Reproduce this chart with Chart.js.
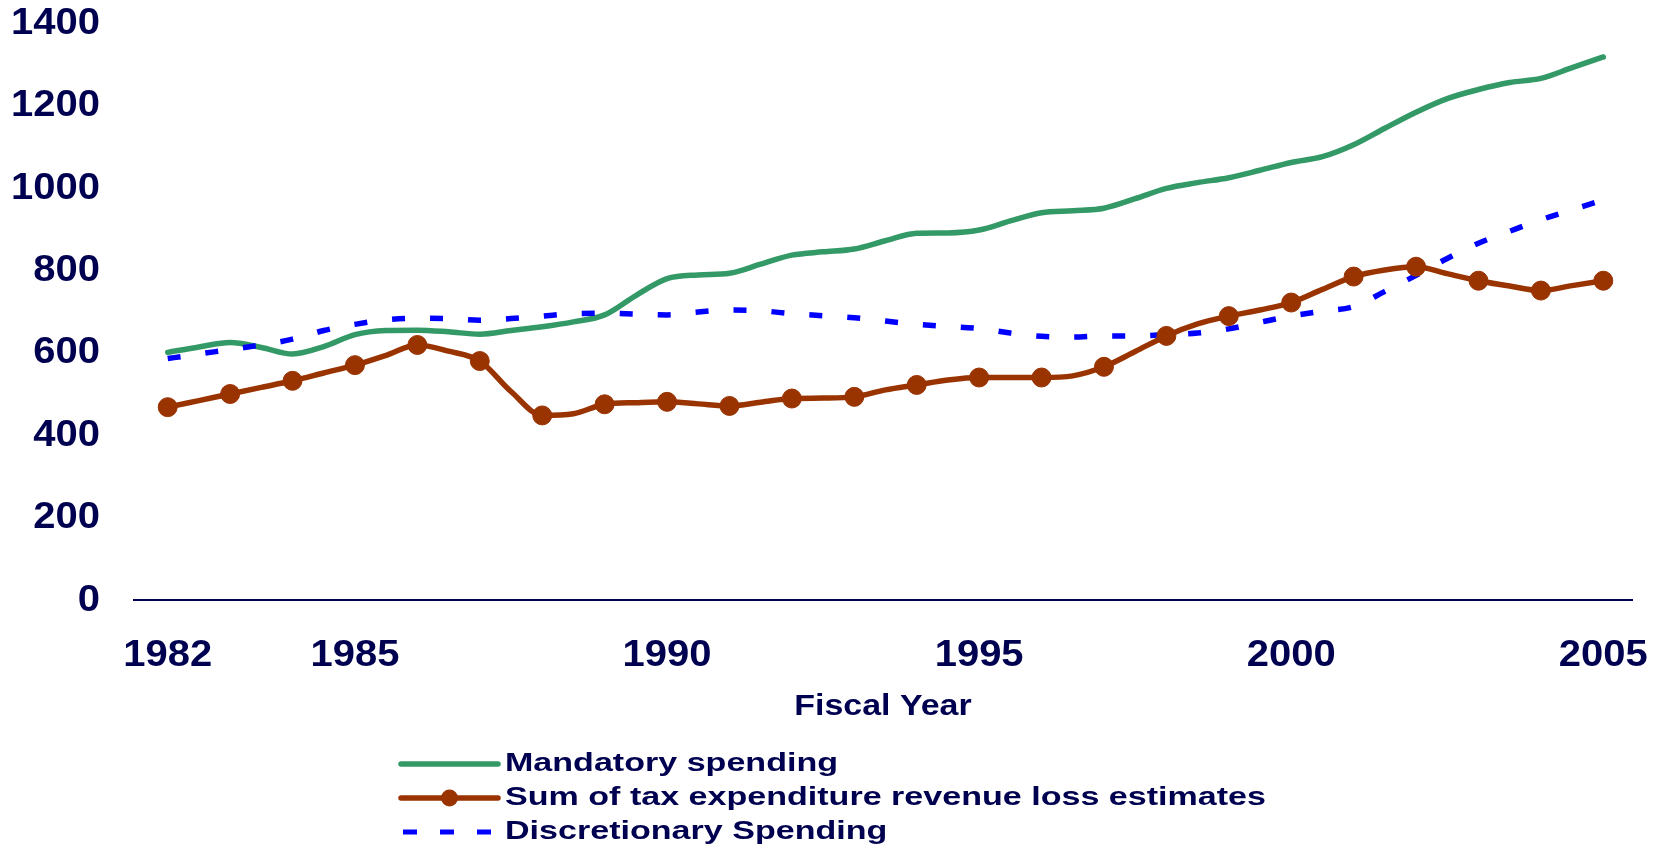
<!DOCTYPE html>
<html>
<head>
<meta charset="utf-8">
<script src="https://cdn.jsdelivr.net/npm/chart.js@4.4.1/dist/chart.umd.min.js"></script>
<style>
  html, body { margin: 0; padding: 0; background: #ffffff; }
  #wrap { width: 1678px; height: 848px; }
</style>
</head>
<body>
<div id="wrap"><canvas id="chart" width="1678" height="848"></canvas></div>
<script>
// ---- Data (billions of dollars) ----
const years = [1982, 1982.5, 1983, 1983.5, 1984, 1984.5, 1985, 1985.5, 1986, 1986.5,
               1987, 1987.5, 1988, 1988.5, 1989, 1989.5, 1990, 1990.5, 1991, 1991.5,
               1992, 1992.5, 1993, 1993.5, 1994, 1994.5, 1995, 1995.5, 1996, 1996.5,
               1997, 1997.5, 1998, 1998.5, 1999, 1999.5, 2000, 2000.5, 2001, 2001.5,
               2002, 2002.5, 2003, 2003.5, 2004, 2004.5, 2005];

const mandatorySpending = [602, 615, 626, 614, 598, 616, 645, 655, 656, 652,
                           646, 655, 664, 676, 693, 740, 781, 790, 794, 816,
                           838, 846, 853, 873, 891, 892, 899, 921, 941, 946,
                           952, 975, 1000, 1014, 1026, 1044, 1063, 1077, 1106, 1146,
                           1185, 1218, 1240, 1257, 1267, 1293, 1319];

const taxExpenditures = [469, 485, 501, 517, 533, 552, 571, 595, 620, 605,
                         581, 507, 449, 453, 476, 480, 482, 477, 472, 481,
                         490, 491, 494, 511, 523, 535, 541, 541, 541, 545,
                         567, 604, 642, 671, 690, 705, 723, 755, 786, 802,
                         810, 793, 776, 763, 752, 764, 776];

const discretionarySpending = [587, 598, 609, 620, 634, 655, 670, 681, 685, 684,
                               680, 684, 690, 696, 697, 695, 693, 700, 705, 703,
                               696, 691, 686, 678, 670, 665, 660, 649, 641, 639,
                               642, 642, 645, 649, 659, 675, 690, 702, 713, 750,
                               789, 830, 867, 896, 924, 948, 972];

const seriesNames = ['Mandatory spending',
                     'Sum of tax expenditure revenue loss estimates',
                     'Discretionary Spending'];

const xTickLabels = [1982, 1985, 1990, 1995, 2000, 2005];
const yTickLabels = [0, 200, 400, 600, 800, 1000, 1200, 1400];
const xAxisTitle = 'Fiscal Year';

// ---- Styles ----
const TEXT = '#000050';
const FONT = '"Liberation Sans", Arial, sans-serif';
const TICK_SIZE = 37, TITLE_SIZE = 29, LEGEND_SIZE = 26;
// horizontal glyph stretch of the reference's text, per font size
const TEXT_STRETCH = { 37: 1.08, 29: 1.17, 26: 1.31 };

const canvas = document.getElementById('chart');
const c2d = canvas.getContext('2d');
const rawFillText = c2d.fillText;
c2d.fillText = function (text, x, y, maxWidth) {
  const m = /(\d+(?:\.\d+)?)px/.exec(this.font);
  const sx = (m && TEXT_STRETCH[Math.round(parseFloat(m[1]))]) || 1;
  if (sx === 1) {
    return maxWidth === undefined ? rawFillText.call(this, text, x, y)
                                  : rawFillText.call(this, text, x, y, maxWidth);
  }
  this.save();
  this.translate(x, y);
  this.scale(sx, 1);
  rawFillText.call(this, text, 0, 0);
  this.restore();
};

const toPoints = (vals) => years.map((x, i) => ({ x: x, y: vals[i] }));

const stackedLegend = {
  id: 'stackedLegend',
  afterDraw(chart) {
    const ctx = chart.ctx;
    const rowsY = [764, 798, 832];
    const x0 = 401, x1 = 498, tx = 505;
    ctx.save();
    chart.data.datasets.forEach((ds, i) => {
      const y = rowsY[i];
      const dashed = ds.borderDash && ds.borderDash.length;
      ctx.beginPath();
      ctx.strokeStyle = ds.borderColor;
      ctx.lineWidth = dashed ? 5 : ds.borderWidth;
      ctx.lineCap = dashed ? 'butt' : 'round';
      ctx.setLineDash(dashed ? [14, 23] : []);
      ctx.moveTo(dashed ? 403 : x0, y);
      ctx.lineTo(x1, y);
      ctx.stroke();
      ctx.setLineDash([]);
      if (ds.legendMarker) {
        ctx.beginPath();
        ctx.fillStyle = ds.pointBackgroundColor;
        ctx.arc((x0 + x1) / 2, y, 8.5, 0, Math.PI * 2);
        ctx.fill();
      }
      ctx.font = 'bold ' + LEGEND_SIZE + 'px ' + FONT;
      ctx.textBaseline = 'middle';
      ctx.textAlign = 'left';
      ctx.fillStyle = TEXT;
      ctx.fillText(ds.label, tx, y);
    });
    ctx.restore();
  }
};

new Chart(canvas, {
  type: 'line',
  data: {
    datasets: [
      {
        label: seriesNames[0],
        data: toPoints(mandatorySpending),
        borderColor: '#339966',
        backgroundColor: '#339966',
        borderWidth: 5.5,
        pointRadius: 0,
        cubicInterpolationMode: 'monotone',
        borderCapStyle: 'round',
        order: 3
      },
      {
        label: seriesNames[1],
        data: toPoints(taxExpenditures),
        borderColor: '#993300',
        backgroundColor: '#993300',
        pointBackgroundColor: '#993300',
        pointBorderColor: '#993300',
        borderWidth: 5.5,
        pointRadius: (c) => Number.isInteger(years[c.dataIndex]) ? 9.5 : 0,
        pointBorderWidth: 1,
        cubicInterpolationMode: 'monotone',
        legendMarker: true,
        order: 1
      },
      {
        label: seriesNames[2],
        data: toPoints(discretionarySpending),
        borderColor: '#0000ff',
        backgroundColor: '#0000ff',
        borderWidth: 5.5,
        borderDash: [13, 25],
        borderCapStyle: 'butt',
        pointRadius: 0,
        cubicInterpolationMode: 'monotone',
        order: 2
      }
    ]
  },
  options: {
    responsive: false,
    animation: false,
    events: [],
    layout: { padding: { top: 23.6, right: 33, bottom: 110, left: 0 } },
    plugins: {
      legend: { display: false },
      tooltip: { enabled: false },
      title: { display: false }
    },
    scales: {
      x: {
        type: 'linear',
        min: 1981.46,
        max: 2005.46,
        afterBuildTicks: (scale) => { scale.ticks = xTickLabels.map(v => ({ value: v })); },
        afterFit: (scale) => { scale.height = 137.6; },
        grid: { display: false, drawTicks: false },
        border: { display: true, color: '#000050', width: 2 },
        ticks: {
          padding: 32.9,
          color: TEXT,
          font: { family: FONT, size: TICK_SIZE, weight: 'bold' },
          maxRotation: 0,
          autoSkip: false,
          callback: (v) => String(v)
        },
        title: {
          display: true,
          text: xAxisTitle,
          color: TEXT,
          font: { family: FONT, size: TITLE_SIZE, weight: 'bold' },
          padding: { top: 0, bottom: 13.6 }
        }
      },
      y: {
        min: 0,
        max: 1400,
        afterBuildTicks: (scale) => { scale.ticks = yTickLabels.map(v => ({ value: v })); },
        afterFit: (scale) => { scale.width = 134; scale.paddingTop = 0; scale.paddingBottom = 0; },
        grid: { display: false, drawTicks: false },
        border: { display: false },
        ticks: {
          padding: 34,
          color: TEXT,
          font: { family: FONT, size: TICK_SIZE, weight: 'bold' },
          callback: (v) => String(v)
        }
      }
    }
  }
  ,plugins: [stackedLegend]
});
</script>
</body>
</html>
